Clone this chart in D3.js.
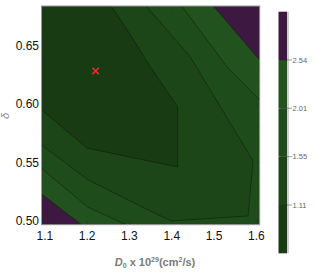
<!DOCTYPE html>
<html>
<head>
<meta charset="utf-8">
<script src="https://cdn.jsdelivr.net/npm/d3@7"></script>
<style>
  body { margin: 0; background: #fff; }
  svg { display: block; font-family: "Liberation Sans", Arial, sans-serif; }
</style>
</head>
<body>
<svg id="chart" width="316" height="274"></svg>
<script>
// Plot ranges (D0 in 1e29 cm^2/s, delta)
var xDomain = [1.092, 1.608];
var yDomain = [0.4965, 0.6843];

// Contour levels shown in the bar legend, and the colours of the five bands
var levels = [1.11, 1.55, 2.01, 2.54];
var bandColors = ['#183b14', '#1c4518', '#1f4c1b', '#22521d', '#3d1841'];

// Contour lines, as [D0, delta] points
var contour111 = [[1.2567, 0.6843], [1.2993, 0.6612], [1.3418, 0.6363], [1.4139, 0.5976],
                  [1.4139, 0.5461], [1.2007, 0.5622], [1.092, 0.5950]];
var contour155 = [[1.3395, 0.6843], [1.4435, 0.6408], [1.5924, 0.5513], [1.5806, 0.5040],
                  [1.3986, 0.4997], [1.3442, 0.5092], [1.2024, 0.5350], [1.092, 0.5650]];
var contour201Upper = [[1.4238, 0.6843], [1.5303, 0.6322], [1.608, 0.6036]];
var contour201Lower = [[1.092, 0.5448], [1.2007, 0.5118], [1.2922, 0.4965]];
var contour254Upper = [[1.4986, 0.6843], [1.608, 0.6380]];
var contour254Lower = [[1.092, 0.5229], [1.1865, 0.4965]];

// Best fit point
var bestFit = [[1.22, 0.6285]];

var xTicks = [1.1, 1.2, 1.3, 1.4, 1.5, 1.6];
var yTicks = [0.50, 0.55, 0.60, 0.65];

var plot = { left: 41.5, right: 259.7, top: 6, bottom: 224.7 };
var bar = { left: 278.5, width: 8.5, top: 11.7, bottom: 253.3 };

var svg = d3.select('#chart');

var x = d3.scaleLinear().domain(xDomain).range([plot.left, plot.right]);
var y = d3.scaleLinear().domain(yDomain).range([plot.bottom, plot.top]);

var line = d3.line()
  .x(function(d) { return x(d[0]); })
  .y(function(d) { return y(d[1]); });

var corners = {
  tl: [xDomain[0], yDomain[1]],
  tr: [xDomain[1], yDomain[1]],
  bl: [xDomain[0], yDomain[0]]
};

// Which band fills the area cut off by each contour line (drawn in this order)
var regions = [
  { pts: contour201Upper, corner: 'tr', band: 3 },
  { pts: contour201Lower, corner: 'bl', band: 3 },
  { pts: contour254Upper, corner: 'tr', band: 4 },
  { pts: contour254Lower, corner: 'bl', band: 4 },
  { pts: contour155, corner: 'tl', band: 1 },
  { pts: contour111, corner: 'tl', band: 0 }
];

var g = svg.append('g');

// base band (between 1.55 and 2.01)
g.append('rect')
  .attr('x', x(xDomain[0]))
  .attr('y', y(yDomain[1]))
  .attr('width', x(xDomain[1]) - x(xDomain[0]))
  .attr('height', y(yDomain[0]) - y(yDomain[1]))
  .attr('fill', bandColors[2]);

regions.forEach(function(r) {
  g.append('path')
    .attr('d', line(r.pts.concat([corners[r.corner]])) + 'Z')
    .attr('fill', bandColors[r.band]);
});

// contour lines on top
regions.forEach(function(r) {
  g.append('path')
    .attr('d', line(r.pts))
    .attr('fill', 'none')
    .attr('stroke', '#000')
    .attr('stroke-opacity', 0.55)
    .attr('stroke-width', 0.6);
});

// frame ticks, inward on all four sides
var tickColor = '#333';
var xMinor = d3.range(1.1, 1.6001, 0.02);
var yMinor = d3.range(0.50, 0.6801, 0.01);
xMinor.forEach(function(v) {
  var major = xTicks.some(function(t) { return Math.abs(t - v) < 1e-6; });
  var len = major ? 4 : 2;
  g.append('line').attr('x1', x(v)).attr('x2', x(v))
    .attr('y1', plot.bottom).attr('y2', plot.bottom - len)
    .attr('stroke', tickColor).attr('stroke-width', 0.6);
  g.append('line').attr('x1', x(v)).attr('x2', x(v))
    .attr('y1', plot.top).attr('y2', plot.top + len)
    .attr('stroke', tickColor).attr('stroke-width', 0.6);
});
yMinor.forEach(function(v) {
  var major = yTicks.some(function(t) { return Math.abs(t - v) < 1e-6; });
  var len = major ? 4 : 2;
  g.append('line').attr('y1', y(v)).attr('y2', y(v))
    .attr('x1', plot.left).attr('x2', plot.left + len)
    .attr('stroke', tickColor).attr('stroke-width', 0.6);
  g.append('line').attr('y1', y(v)).attr('y2', y(v))
    .attr('x1', plot.right).attr('x2', plot.right - len)
    .attr('stroke', tickColor).attr('stroke-width', 0.6);
});

// frame
g.append('rect')
  .attr('x', plot.left).attr('y', plot.top)
  .attr('width', plot.right - plot.left).attr('height', plot.bottom - plot.top)
  .attr('fill', 'none').attr('stroke', '#9a9a9a').attr('stroke-width', 1);

// tick labels
g.selectAll('.xlab').data(xTicks).enter().append('text')
  .attr('x', function(d) { return x(d); })
  .attr('y', 240)
  .attr('text-anchor', 'middle')
  .attr('font-size', '12px')
  .attr('fill', '#111')
  .text(function(d) { return d3.format('.1f')(d); });

g.selectAll('.ylab').data(yTicks).enter().append('text')
  .attr('x', 39)
  .attr('y', function(d) { return y(d); })
  .attr('dy', '0.36em')
  .attr('text-anchor', 'end')
  .attr('font-size', '12px')
  .attr('fill', '#111')
  .text(function(d) { return d3.format('.2f')(d); });

// axis titles
svg.append('text')
  .attr('transform', 'translate(9,116) rotate(-90)')
  .attr('text-anchor', 'middle')
  .attr('font-size', '11px')
  .attr('fill', '#888')
  .attr('font-style', 'italic')
  .text('δ');

var xt = svg.append('text')
  .attr('x', 155).attr('y', 266)
  .attr('text-anchor', 'middle')
  .attr('font-size', '11px')
  .attr('font-weight', 'bold')
  .attr('fill', '#7a7a7a');
xt.append('tspan').attr('font-style', 'italic').text('D');
xt.append('tspan').attr('font-size', '7px').attr('dy', 2).text('0');
xt.append('tspan').attr('dy', -2).text(' x 10');
xt.append('tspan').attr('font-size', '7px').attr('dy', -4).text('29');
xt.append('tspan').attr('dy', 4).text('(cm');
xt.append('tspan').attr('font-size', '7px').attr('dy', -4).text('2');
xt.append('tspan').attr('dy', 4).text('/s)');

// best fit marker
svg.selectAll('.best').data(bestFit).enter().append('path')
  .attr('d', d3.symbol().type(d3.symbolX).size(28))
  .attr('transform', function(d) { return 'translate(' + x(d[0]) + ',' + y(d[1]) + ')'; })
  .attr('fill', 'none')
  .attr('stroke', '#e2302a')
  .attr('stroke-width', 1.6);

// bar legend
var bandScale = d3.scaleLinear().domain([0, bandColors.length]).range([bar.bottom, bar.top]);
var lg = svg.append('g');
bandColors.forEach(function(c, i) {
  lg.append('rect')
    .attr('x', bar.left)
    .attr('y', bandScale(i + 1))
    .attr('width', bar.width)
    .attr('height', bandScale(i) - bandScale(i + 1))
    .attr('fill', c);
});
lg.append('line')
  .attr('x1', bar.left + bar.width + 1).attr('x2', bar.left + bar.width + 1)
  .attr('y1', bar.top).attr('y2', bar.bottom)
  .attr('stroke', '#cfcfcf').attr('stroke-width', 2);
levels.forEach(function(v, i) {
  var yy = bandScale(i + 1);
  lg.append('line')
    .attr('x1', bar.left + 2).attr('x2', bar.left + bar.width + 5)
    .attr('y1', yy).attr('y2', yy)
    .attr('stroke', '#222').attr('stroke-opacity', 0.7).attr('stroke-width', 0.6);
  lg.append('text')
    .attr('x', bar.left + bar.width + 5.5)
    .attr('y', yy)
    .attr('dy', '0.35em')
    .attr('font-size', '7.5px')
    .attr('fill', '#666')
    .text(d3.format('.2f')(v));
});
</script>
</body>
</html>
